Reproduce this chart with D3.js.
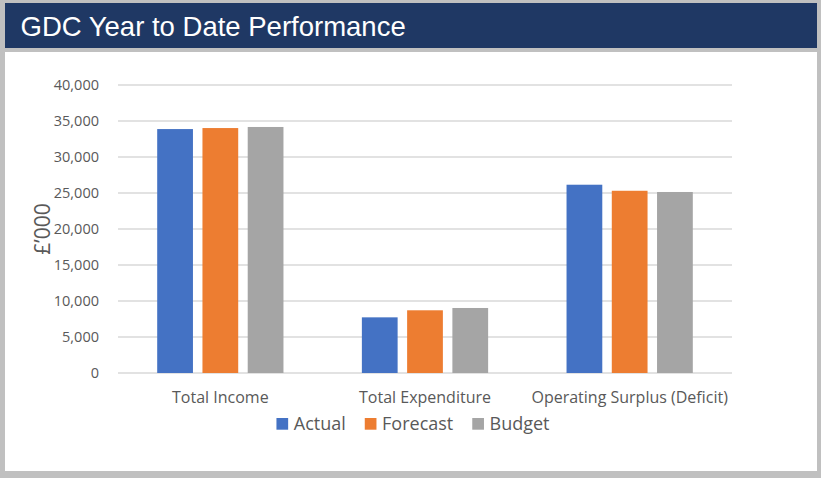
<!DOCTYPE html>
<html lang="en">
<head>
    <meta charset="UTF-8">
    <title>GDC Year to Date Performance</title>
    <script src="https://cdnjs.cloudflare.com/ajax/libs/d3/7.8.5/d3.min.js"></script>
    <style>
        body {
            margin: 0;
            padding: 0;
            background-color: #c0c0c0;
        }
        svg {
            display: block;
        }
        .tick-label {
            font-family: "Open Sans", sans-serif;
            font-size: 14.5px;
            fill: #595959;
        }
        .cat-label {
            font-family: "Open Sans", sans-serif;
            font-size: 16px;
            fill: #595959;
        }
        .legend text {
            font-family: "Open Sans", sans-serif;
            font-size: 18px;
            fill: #595959;
        }
    </style>
</head>
<body>
    <svg width="821" height="478"></svg>

    <script>
        // data (£'000)
        const categories = ["Total Income", "Total Expenditure", "Operating Surplus (Deficit)"];
        const seriesNames = ["Actual", "Forecast", "Budget"];
        const actual = [33880, 7730, 26150];
        const forecast = [34020, 8710, 25310];
        const budget = [34170, 9030, 25140];
        const yTicks = [0, 5000, 10000, 15000, 20000, 25000, 30000, 35000, 40000];

        const colors = ["#4472c4", "#ed7d31", "#a5a5a5"];
        const seriesValues = [actual, forecast, budget];

        const svg = d3.select("svg");

        // frame: gray background, navy title bar, white panel
        svg.append("rect")
            .attr("x", 0).attr("y", 0)
            .attr("width", 821).attr("height", 478)
            .attr("fill", "#c0c0c0");

        svg.append("rect")
            .attr("x", 5).attr("y", 3)
            .attr("width", 812).attr("height", 45)
            .attr("fill", "#1f3864");

        svg.append("text")
            .attr("x", 20.5)
            .attr("y", 35.7)
            .attr("fill", "#ffffff")
            .style("font-family", "'Liberation Sans', Arial, sans-serif")
            .style("font-size", "27.5px")
            .text("GDC Year to Date Performance");

        svg.append("rect")
            .attr("x", 5).attr("y", 52)
            .attr("width", 812).attr("height", 419)
            .attr("fill", "#ffffff");

        // scales
        const x0 = d3.scaleBand()
            .domain(categories)
            .range([118, 732])
            .padding(0);

        const outer = 39.2;
        const x1 = d3.scaleBand()
            .domain(seriesNames)
            .range([outer, x0.bandwidth() - outer])
            .paddingInner(0.21)
            .paddingOuter(0);

        const y = d3.scaleLinear()
            .domain([0, 40000])
            .range([373, 85]);

        // gridlines
        svg.append("g")
            .selectAll("line")
            .data(yTicks)
            .enter().append("line")
            .attr("x1", 118)
            .attr("x2", 732)
            .attr("y1", d => y(d))
            .attr("y2", d => y(d))
            .attr("stroke", "#d9d9d9")
            .attr("stroke-width", 1.3);

        // y tick labels
        svg.append("g")
            .selectAll("text")
            .data(yTicks)
            .enter().append("text")
            .attr("class", "tick-label")
            .attr("x", 99)
            .attr("y", d => y(d))
            .attr("dy", "0.35em")
            .attr("text-anchor", "end")
            .text(d => d3.format(",")(d));

        // y axis title
        svg.append("text")
            .attr("transform", `translate(50, ${(y(0) + y(40000)) / 2}) rotate(-90)`)
            .attr("text-anchor", "middle")
            .style("font-family", "'Open Sans', sans-serif")
            .style("font-size", "21px")
            .attr("fill", "#595959")
            .text("£’000");

        // bars
        const groups = svg.append("g")
            .selectAll("g")
            .data(categories)
            .enter().append("g")
            .attr("transform", d => `translate(${x0(d)},0)`);

        groups.selectAll("rect")
            .data((d, i) => seriesNames.map((s, j) => ({ series: s, value: seriesValues[j][i], color: colors[j] })))
            .enter().append("rect")
            .attr("x", d => x1(d.series))
            .attr("width", x1.bandwidth())
            .attr("y", d => y(d.value))
            .attr("height", d => y(0) - y(d.value))
            .attr("fill", d => d.color);

        // category labels
        svg.append("g")
            .selectAll("text")
            .data(categories)
            .enter().append("text")
            .attr("class", "cat-label")
            .attr("x", d => x0(d) + x0.bandwidth() / 2)
            .attr("y", 403.3)
            .attr("text-anchor", "middle")
            .text(d => d);

        // legend
        const legend = svg.append("g").attr("class", "legend");
        let lx = 0;
        seriesNames.forEach((s, i) => {
            const item = legend.append("g").attr("transform", `translate(${lx},0)`);
            item.append("rect")
                .attr("x", 0).attr("y", 418)
                .attr("width", 11.7).attr("height", 11.7)
                .attr("fill", colors[i]);
            const t = item.append("text")
                .attr("x", 17.3)
                .attr("y", 430)
                .text(s);
            lx += 17.3 + t.node().getComputedTextLength() + 19;
        });
        const legendWidth = lx - 19;
        legend.attr("transform", `translate(${413 - legendWidth / 2},0)`);
    </script>
</body>
</html>
